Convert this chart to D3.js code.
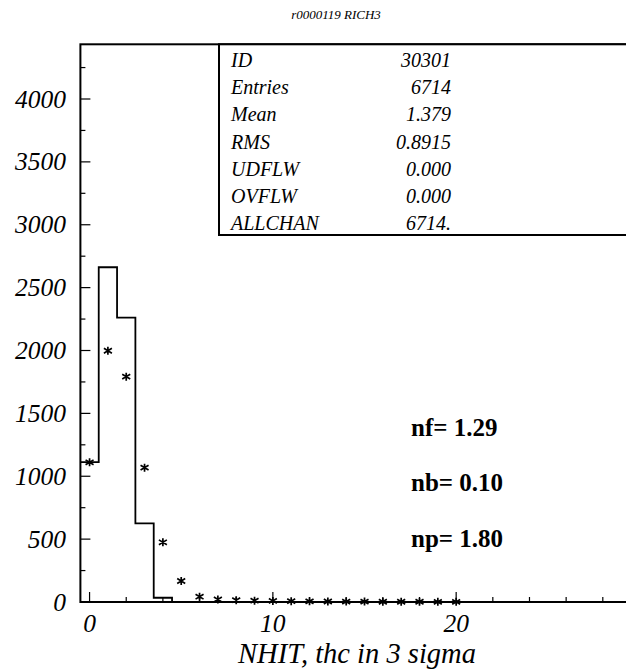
<!DOCTYPE html>
<html>
<head>
<meta charset="utf-8">
<script src="https://cdn.jsdelivr.net/npm/d3@7"></script>
<style>
  body { margin: 0; background: #fff; }
  svg { display: block; }
  text { font-family: "Liberation Serif", "Times New Roman", serif; fill: #000; }
</style>
</head>
<body>
<div id="chart"></div>
<script>
const WIDTH = 626;
const HEIGHT = 670;

// histogram contents, bins centred on 0,1,2,...
var binValues = [1112, 2662, 2261, 626, 34, 0, 0, 0];
// fitted points (asterisks) at x = 0..20
var pointValues = [1111, 1998, 1792, 1068, 475, 167, 42, 20, 14, 10, 8, 6, 5, 4, 3, 3, 2, 2, 2, 1, 1];
var yTickValues = [0, 500, 1000, 1500, 2000, 2500, 3000, 3500, 4000];
var xTickValues = [0, 10, 20];
var statLabels = ["ID", "Entries", "Mean", "RMS", "UDFLW", "OVFLW", "ALLCHAN"];
var statValues = ["30301", "6714", "1.379", "0.8915", "0.000", "0.000", "6714."];
var fitLabels = ["nf= 1.29", "nb= 0.10", "np= 1.80"];
var titleText = "r0000119 RICH3";
var xTitle = "NHIT, thc in 3 sigma";

//Scales
var xScale = d3.scaleLinear().domain([-0.5, 29.5]).range([80.4, 630.3]);
var yScale = d3.scaleLinear().domain([0, 4435]).range([602, 44.3]);

var svg = d3.select("#chart").append("svg")
  .attr("width", WIDTH)
  .attr("height", HEIGHT);

//Title
svg.append("text")
  .attr("x", 336).attr("y", 19)
  .attr("text-anchor", "middle")
  .style("font-size", "13px").style("font-style", "italic")
  .text(titleText);

//Frame
svg.append("rect")
  .attr("x", xScale(-0.5)).attr("y", yScale(4435))
  .attr("width", xScale(29.5) - xScale(-0.5))
  .attr("height", yScale(0) - yScale(4435))
  .attr("fill", "none").attr("stroke", "#000").attr("stroke-width", 2);

//Y ticks, inward
var yMinor = d3.range(250, 4435, 250);
svg.append("g").selectAll("line").data(yMinor).enter().append("line")
  .attr("x1", xScale(-0.5)).attr("x2", (d) => xScale(-0.5) + (d % 500 === 0 ? 10 : 5))
  .attr("y1", (d) => yScale(d)).attr("y2", (d) => yScale(d))
  .attr("stroke", "#000").attr("stroke-width", 1.2);

svg.append("g").selectAll("text").data(yTickValues).enter().append("text")
  .attr("x", 66).attr("y", (d) => yScale(d) + 8.5)
  .attr("text-anchor", "end")
  .style("font-size", "25.5px").style("font-style", "italic")
  .text((d) => d);

//X ticks, inward
var xMinor = d3.range(0, 30, 2);
svg.append("g").selectAll("line").data(xMinor).enter().append("line")
  .attr("x1", (d) => xScale(d)).attr("x2", (d) => xScale(d))
  .attr("y1", yScale(0))
  .attr("y2", (d) => yScale(0) - (d % 10 === 0 ? 10 : 5))
  .attr("stroke", "#000").attr("stroke-width", 1.2);

svg.append("g").selectAll("text").data(xTickValues).enter().append("text")
  .attr("x", (d) => xScale(d)).attr("y", 632)
  .attr("text-anchor", "middle")
  .style("font-size", "25.5px").style("font-style", "italic")
  .text((d) => d);

svg.append("text")
  .attr("x", 357).attr("y", 663)
  .attr("text-anchor", "middle")
  .style("font-size", "28.5px").style("font-style", "italic")
  .text(xTitle);

//Histogram as steps
var stepData = binValues.map((v, i) => [i - 0.5, v]);
stepData.push([binValues.length - 0.5, 0]);
var stepLine = d3.line()
  .x((d) => xScale(d[0]))
  .y((d) => yScale(d[1]))
  .curve(d3.curveStepAfter);
svg.append("path")
  .datum(stepData)
  .attr("d", stepLine)
  .attr("fill", "none").attr("stroke", "#000").attr("stroke-width", 1.8);

//Asterisk markers
var s = 4;
var starPath = "M0," + (-s) + "V" + s +
  "M" + (-s) + "," + (-s * 0.6) + "L" + s + "," + (s * 0.6) +
  "M" + (-s) + "," + (s * 0.6) + "L" + s + "," + (-s * 0.6) +
  "M-1.6,0H1.6";
svg.append("g").selectAll("path").data(pointValues).enter().append("path")
  .attr("transform", (d, i) => "translate(" + xScale(i) + "," + yScale(d) + ")")
  .attr("d", starPath)
  .attr("fill", "none").attr("stroke", "#000").attr("stroke-width", 1.7);

//Stats box
svg.append("rect")
  .attr("x", 219).attr("y", yScale(4435))
  .attr("width", 420).attr("height", 235 - yScale(4435))
  .attr("fill", "#fff").attr("stroke", "#000").attr("stroke-width", 2);

var statRows = svg.append("g").selectAll("g").data(statLabels).enter().append("g")
  .attr("transform", (d, i) => "translate(0," + (67 + i * 27.2) + ")");
statRows.append("text")
  .attr("x", 231)
  .style("font-size", "20px").style("font-style", "italic")
  .text((d) => d);
statRows.append("text")
  .attr("x", 451)
  .attr("text-anchor", "end")
  .style("font-size", "20px").style("font-style", "italic")
  .text((d, i) => statValues[i]);

//Fit results
svg.append("g").selectAll("text").data(fitLabels).enter().append("text")
  .attr("x", 411).attr("y", (d, i) => 436 + i * 55.3)
  .style("font-size", "25px").style("font-weight", "bold")
  .text((d) => d);
</script>
</body>
</html>
